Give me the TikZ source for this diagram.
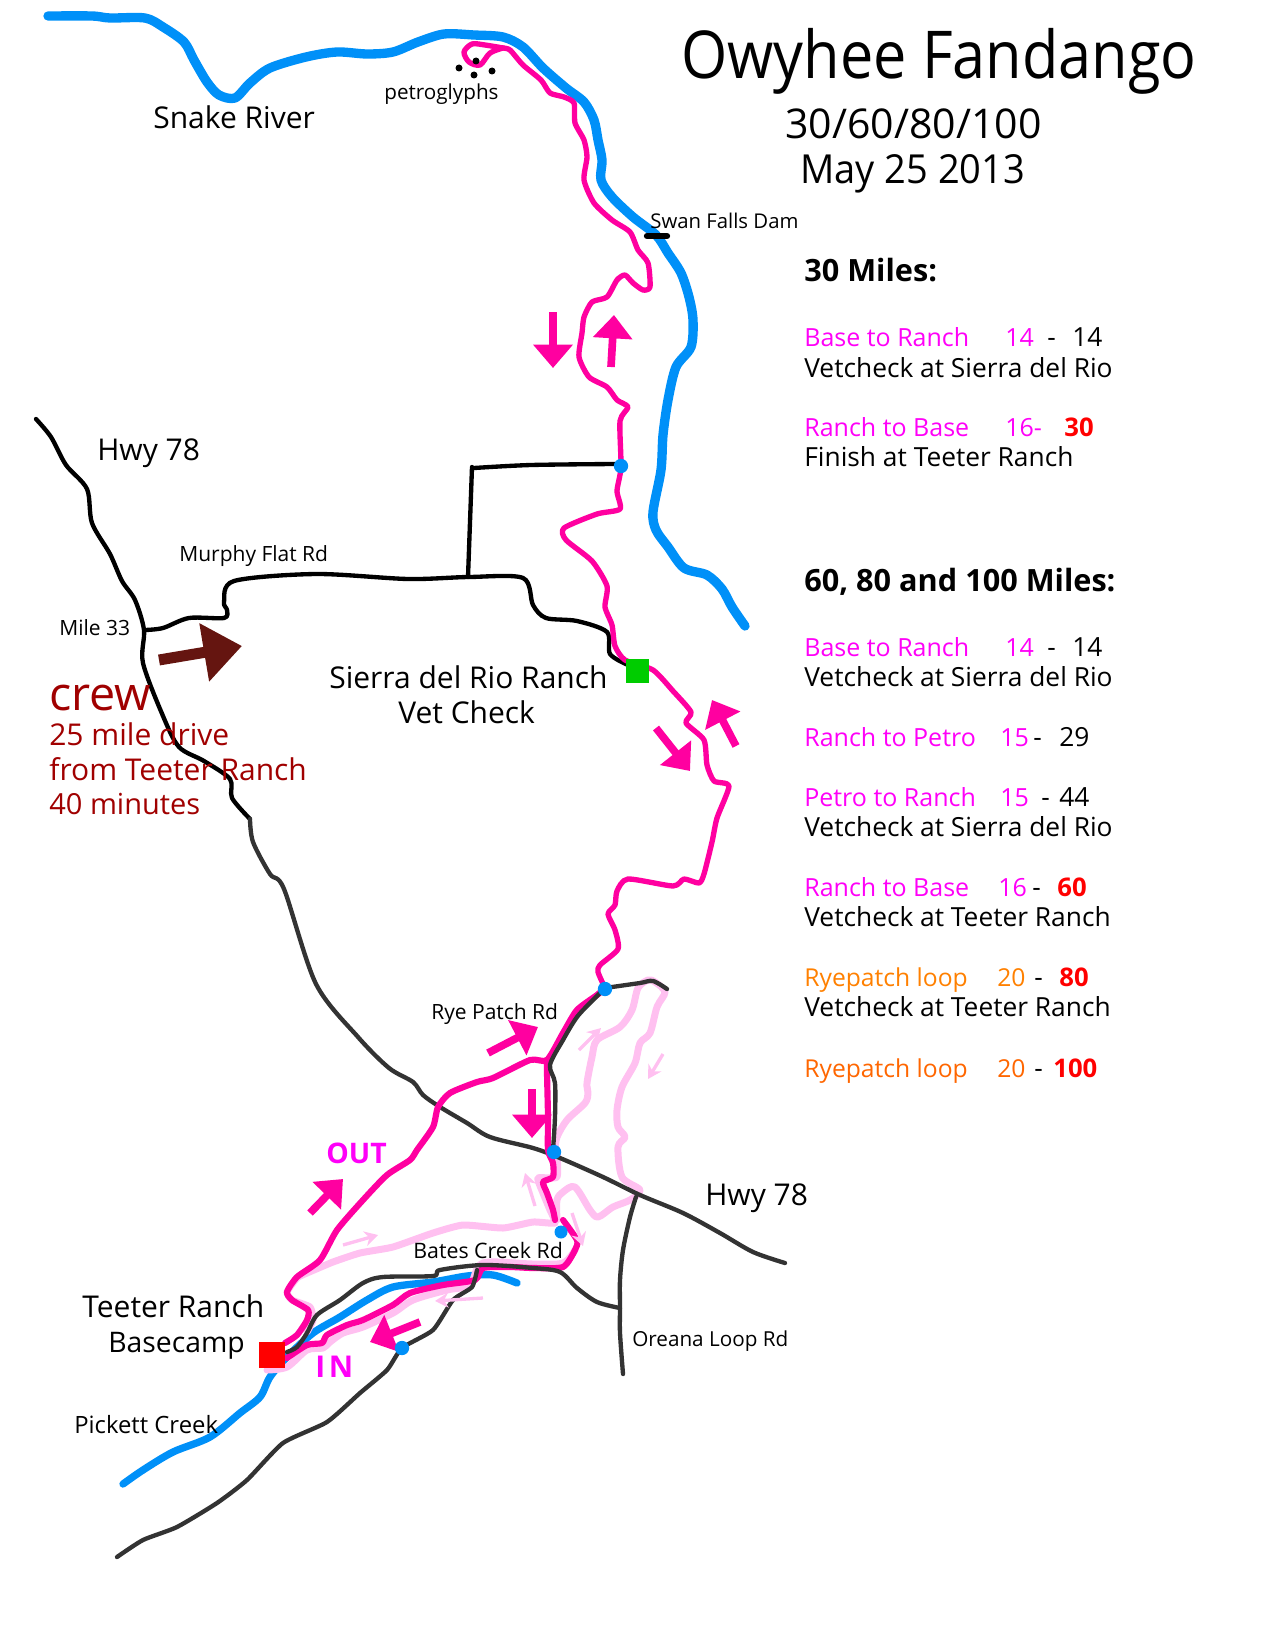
\documentclass[tikz,border=0pt]{standalone}
\usepackage{fontspec}
\setmainfont{Open Sans}
\usetikzlibrary{arrows.meta}
\definecolor{riverblue}{HTML}{0090F8}
\definecolor{trailpink}{HTML}{FF00A0}
\definecolor{looppink}{HTML}{FFC0F0}
\definecolor{labelpink}{HTML}{FF00F8}
\definecolor{crewred}{HTML}{A00000}
\definecolor{crewbrown}{HTML}{651510}
\definecolor{roadgrey}{HTML}{333333}
\definecolor{loopa}{HTML}{FF8000}
\definecolor{loopb}{HTML}{FF6600}
\newcommand{\fsize}[1]{\fontsize{#1}{#1}\selectfont}

\begin{document}
\begin{tikzpicture}[x=0.6pt,y=-0.6pt,
    river/.style={draw=riverblue,line width=5.6pt,line cap=round,line join=round},
    creek/.style={draw=riverblue,line width=4.4pt,line cap=round,line join=round},
    road/.style={draw=black,line width=2.6pt,line cap=round,line join=round},
    greyroad/.style={draw=roadgrey,line width=2.6pt,line cap=round,line join=round},
    trail/.style={draw=trailpink,line width=3.2pt,line cap=round,line join=round},
    loopline/.style={draw=looppink,line width=4.2pt,line cap=round,line join=round},
    bigarrow/.style={draw=trailpink,line width=4.6pt,-{Triangle[length=14pt,width=23pt]}},
    smallarrow/.style={draw=looppink,line width=2pt,-{Stealth[length=8pt,width=9pt]}},
    stopdot/.style={circle,fill=riverblue,inner sep=0pt,minimum size=8.6pt},
    maplabel/.style={anchor=base west,inner sep=0pt,font=\fsize{18}},
    smalllabel/.style={anchor=base west,inner sep=0pt,font=\fsize{12.6}},
    crewlabel/.style={anchor=base west,inner sep=0pt,text=crewred,font=\fsize{18}},
    legend/.style={anchor=base west,inner sep=0pt,font=\fsize{15.8}},
    legendhead/.style={anchor=base west,inner sep=0pt,font=\fsize{18.4}\bfseries},
    pinktext/.style={anchor=base west,inner sep=0pt,text=labelpink,font=\fsize{15}},
    orangetext/.style={anchor=base west,inner sep=0pt,font=\fsize{14.8}},
    redtext/.style={legend,text=red,font=\fsize{15.4}\bfseries}]
    \useasboundingbox (0,0) rectangle (1275,1650);

    \draw[river] plot[smooth] coordinates {(48,16) (92,16) (110,18) (145,18) (163,27) (184,42) (194,60) (207,82) (219,95) (235,98) (250,83) (270,68) (306,57) (337,52) (367,54) (393,52) (418,42) (444,34) (474,35) (503,37) (523,47) (543,68) (566,88) (584,102) (594,120) (598,140) (602,160) (601,180) (612,197) (633,217) (656,235) (668,253) (681,273) (689,297) (693,320) (691,347) (676,367) (668,400) (663,435) (661,470) (653,512) (656,530) (668,547) (684,568) (707,575) (722,589) (732,607) (745,626)};
    \draw[creek] plot[smooth] coordinates {(517,1283) (493,1275) (467,1276) (433,1282) (393,1287) (367,1300) (340,1317) (313,1333) (287,1357) (270,1377) (260,1397) (240,1413) (210,1437) (173,1452) (143,1470) (123,1484)};

    \draw[loopline] plot[smooth] coordinates {(555,1150) (557,1137) (567,1120) (585,1103) (588,1093) (587,1083) (592,1057) (597,1040) (620,1027) (632,1010) (638,988) (648,980) (655,982) (665,992) (657,1007) (650,1033) (640,1043) (635,1063) (622,1087) (617,1110) (618,1127) (625,1137) (618,1147) (622,1177) (640,1190) (630,1200) (613,1207) (598,1217) (590,1210) (575,1187) (563,1192) (557,1200) (557,1220)};
    \draw[loopline] plot[smooth,tension=0.3] coordinates {(557,1150) (557,1177) (538,1178) (543,1193) (550,1210) (555,1223) (533,1222) (503,1228) (463,1225) (433,1233) (393,1247) (360,1253) (333,1262) (307,1273) (297,1278) (287,1292) (292,1300) (310,1307) (313,1320) (307,1332)};
    \draw[loopline] plot[smooth] coordinates {(575,1250) (563,1263) (533,1264) (483,1263) (470,1285) (447,1290) (413,1300) (393,1313) (363,1327) (343,1333) (330,1342) (323,1348) (307,1350) (287,1367) (267,1370)};

    \draw[road] plot[smooth] coordinates {(36,419) (51,437) (66,465) (87,489) (92,523) (110,554) (122,581) (135,600) (144,630) (143,663) (163,716) (179,747) (204,761) (230,779) (232,798) (250,819)};
    \draw[greyroad] plot[smooth] coordinates {(250,819) (253,842) (270,874) (284,889) (316,984) (358,1037) (389,1068) (413,1082) (423,1095) (440,1107) (467,1123) (490,1137) (533,1148) (560,1158) (603,1177) (640,1195) (683,1213) (720,1233) (753,1252) (785,1263)};
    \draw[road] plot[smooth] coordinates {(145,630) (163,628) (189,618) (224,618) (227,610) (224,602) (234,581) (316,574) (408,579) (469,577) (523,578) (533,605) (546,618) (577,621) (607,632) (610,654) (628,665)};
    \draw[road] (472,467) -- (468,577);
    \draw[road] plot[smooth] coordinates {(474,468) (531,465) (615,464)};

    \draw[trail] plot[smooth] coordinates {(503,48) (490,53) (480,65) (469,62) (464,52) (472,44) (485,45) (503,48)};
    \draw[trail] plot[smooth,tension=0.4] coordinates {(503,48) (510,50) (523,65) (541,80) (550,93) (564,97) (574,103) (575,123) (584,140) (587,157) (584,180) (594,203) (612,220) (630,232) (638,250) (648,263) (650,287) (643,290) (633,283) (625,275) (617,280) (607,297) (592,302) (584,317) (582,333) (579,357) (589,377) (607,387) (617,400) (628,407) (620,421) (621,467) (617,491) (620,509) (597,514) (564,528) (566,540) (592,561) (607,586) (605,607) (612,625) (615,646) (625,660) (653,670) (673,691) (691,712) (686,723) (704,740) (707,765) (714,781) (729,786) (717,818) (712,842) (704,874) (699,883) (684,879) (673,886) (628,879) (617,891) (615,905) (608,914) (615,930) (618,949) (600,965) (598,972) (605,988)};
    \draw[trail,line width=3.7pt] plot[smooth,tension=0.4] coordinates {(605,988) (597,995) (577,1010) (563,1033) (547,1060) (530,1060) (493,1078) (477,1082) (450,1093) (438,1107) (433,1127) (417,1150) (410,1160) (387,1175) (363,1200) (337,1230) (320,1260) (297,1277) (287,1292) (292,1300) (308,1310) (307,1320) (297,1335) (285,1343)};
    \draw[trail,line width=3.7pt] plot[smooth,tension=0.4] coordinates {(547,1060) (547,1073) (548,1117) (548,1150) (553,1163) (553,1177) (543,1182) (547,1193) (553,1210) (555,1220)};
    \draw[trail,line width=3.7pt] plot[smooth,tension=0.4] coordinates {(563,1220) (577,1240) (575,1250) (563,1267) (533,1268) (510,1267) (483,1268) (475,1280) (443,1285) (410,1293) (393,1305) (363,1320) (347,1325) (327,1335) (322,1343) (307,1345) (287,1358)};

    \draw[greyroad] plot[smooth] coordinates {(605,988) (593,1000) (577,1017) (563,1040) (550,1065) (555,1083) (555,1117) (553,1150)};
    \draw[greyroad] plot[smooth] coordinates {(605,988) (612,987) (640,983) (653,981) (667,989)};
    \draw[greyroad] plot[smooth] coordinates {(636,1197) (630,1217) (623,1250) (620,1280) (620,1308) (620,1333) (623,1374)};
    \draw[greyroad] plot[smooth] coordinates {(620,1308) (597,1302) (577,1288) (560,1272) (533,1268) (483,1265) (440,1270) (433,1276) (383,1277) (363,1283) (340,1300) (317,1315) (307,1333) (297,1347) (287,1352)};
    \draw[greyroad] plot[smooth,tension=0.35] coordinates {(477,1270) (472,1287) (453,1300) (433,1330) (402,1348) (387,1370) (360,1393) (327,1422) (283,1443) (247,1480) (217,1503) (177,1527) (143,1540) (117,1557)};

    \draw[bigarrow] (553,312) -- (553,368);
    \draw[bigarrow] (611,367) -- (614,315);
    \draw[bigarrow] (656,728) -- (690,771);
    \draw[bigarrow] (736,746) -- (712,700);
    \draw[bigarrow] (488,1053) -- (538,1027);
    \draw[bigarrow] (532,1089) -- (532,1138);
    \draw[bigarrow] (310,1213) -- (343,1179);
    \draw[bigarrow] (420,1322) -- (370,1342);
    \draw[crewbrown,line width=6.6pt,-{Triangle[length=23pt,width=34pt]}] (159,660) -- (242,646);

    \draw[smallarrow] (579,1050) -- (601,1028);
    \draw[smallarrow] (663,1054) -- (648,1079);
    \draw[smallarrow] (535,1206) -- (525,1173);
    \draw[smallarrow] (572,1213) -- (583,1246);
    \draw[smallarrow] (483,1298) -- (435,1301);
    \draw[smallarrow] (343,1245) -- (378,1235);

    \draw[black,line width=3.8pt,line cap=round] (647,236) -- (667,236);
    \foreach \gx/\gy in {459/68,476/61,474/75,492/71}
        \fill[black] (\gx,\gy) circle (2.1pt);

    \node[stopdot] (gate1) at (621,466) {};
    \node[stopdot] (gate2) at (605,989) {};
    \node[stopdot] (gate3) at (554,1152) {};
    \node[stopdot,minimum size=7.8pt] (gate4) at (561,1232) {};
    \node[stopdot] (gate5) at (402,1348) {};
    \node[rectangle,fill=red,inner sep=0pt,minimum size=15.8pt] (base) at (272,1355) {};
    \node[rectangle,fill=green!80!black,inner sep=0pt,minimum width=13.8pt,minimum height=14.4pt] (ranch) at (637.5,671) {};

    \node[anchor=base west,inner sep=0pt,font=\fsize{39.6}\addfontfeature{FakeStretch=0.9}] (title) at (681,79) {Owyhee Fandango};
    \node[anchor=base west,inner sep=0pt,font=\fsize{24.6}] (dist) at (785,138) {30/60/80/100};
    \node[anchor=base west,inner sep=0pt,font=\fsize{24}\addfontfeature{FakeStretch=0.95}] (date) at (800,183) {May 25 2013};

    \node[maplabel] (snake) at (153,128) {Snake River};
    \node[smalllabel,font=\fsize{12.4}] (petro) at (384,100) {petroglyphs};
    \node[smalllabel,font=\fsize{12.2}] (dam) at (650,228) {Swan Falls Dam};
    \node[maplabel] (hwya) at (97,460) {Hwy 78};
    \node[smalllabel] (murphy) at (179,561) {Murphy Flat Rd};
    \node[smalllabel] (mile) at (59,635) {Mile 33};
    \node[maplabel] (sierra) at (329,688) {Sierra del Rio Ranch};
    \node[maplabel] (vet) at (398,723) {Vet Check};
    \node[smalllabel] (rye) at (431,1019) {Rye Patch Rd};
    \node[smalllabel,font=\fsize{12.8}] (bates) at (413,1258) {Bates Creek Rd};
    \node[smalllabel,font=\fsize{12.4}] (oreana) at (632,1346) {Oreana Loop Rd};
    \node[maplabel] (hwyb) at (705,1205) {Hwy 78};
    \node[maplabel] (teeter) at (82,1317) {Teeter Ranch};
    \node[maplabel,font=\fsize{17}] (camp) at (108,1352) {Basecamp};
    \node[smalllabel,font=\fsize{14.3}] (pickett) at (74,1433) {Pickett Creek};
    \node[maplabel,text=labelpink,font=\fsize{17}\bfseries] (out) at (326,1163) {OUT};
    \node[maplabel,text=labelpink,font=\fsize{18}\bfseries\addfontfeature{LetterSpace=12}] (in) at (315,1377) {IN};

    \node[crewlabel,font=\fsize{28}] (crew) at (49,710) {crew};
    \node[crewlabel] (crewa) at (49,745) {25 mile drive};
    \node[crewlabel] (crewb) at (49,780) {from Teeter Ranch};
    \node[crewlabel,font=\fsize{17.4}] (crewc) at (49,814) {40 minutes};

    \node[legendhead] (heada) at (804,281) {30 Miles:};
    \node[pinktext] (aa) at (804,346) {Base to Ranch};
    \node[pinktext] (ab) at (1005,346) {14};
    \node[legend] (ac) at (1047,346) {-};
    \node[legend] (ad) at (1072,346) {14};
    \node[legend] (ae) at (804,377) {Vetcheck at Sierra del Rio};
    \node[pinktext] (af) at (804,436) {Ranch to Base};
    \node[pinktext] (ag) at (1005,436) {16-};
    \node[redtext] (ah) at (1064,436) {30};
    \node[legend] (ai) at (804,466) {Finish at Teeter Ranch};

    \node[legendhead] (headb) at (804,591) {60, 80 and 100 Miles:};
    \node[pinktext] (ba) at (804,656) {Base to Ranch};
    \node[pinktext] (bb) at (1005,656) {14};
    \node[legend] (bc) at (1047,656) {-};
    \node[legend] (bd) at (1072,656) {14};
    \node[legend] (be) at (804,686) {Vetcheck at Sierra del Rio};
    \node[pinktext] (ca) at (804,746) {Ranch to Petro};
    \node[pinktext] (cb) at (1000,746) {15};
    \node[legend] (cc) at (1033,746) {-};
    \node[legend] (cd) at (1059,746) {29};
    \node[pinktext] (da) at (804,806) {Petro to Ranch};
    \node[pinktext] (db) at (1000,806) {15};
    \node[legend] (dc) at (1041,806) {-};
    \node[legend] (dd) at (1059,806) {44};
    \node[legend] (de) at (804,836) {Vetcheck at Sierra del Rio};
    \node[pinktext] (ea) at (804,896) {Ranch to Base};
    \node[pinktext] (eb) at (998,896) {16};
    \node[legend] (ec) at (1032,896) {-};
    \node[redtext] (ed) at (1057,896) {60};
    \node[legend] (ee) at (804,926) {Vetcheck at Teeter Ranch};
    \node[orangetext,text=loopa] (fa) at (804,986) {Ryepatch loop};
    \node[orangetext,text=loopa] (fb) at (997,986) {20};
    \node[legend] (fc) at (1034,986) {-};
    \node[redtext] (fd) at (1059,986) {80};
    \node[legend] (fe) at (804,1016) {Vetcheck at Teeter Ranch};
    \node[orangetext,text=loopb] (ga) at (804,1077) {Ryepatch loop};
    \node[orangetext,text=loopb] (gb) at (997,1077) {20};
    \node[legend] (gc) at (1034,1077) {-};
    \node[redtext] (gd) at (1053,1077) {100};
\end{tikzpicture}
\end{document}
